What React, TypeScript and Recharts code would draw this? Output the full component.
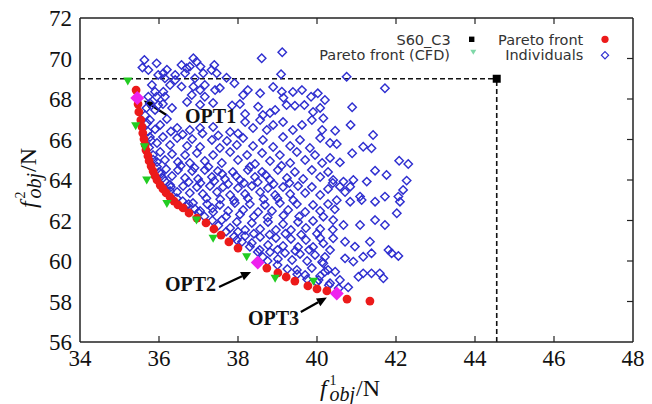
import React from 'react';
import { ScatterChart, Scatter, XAxis, YAxis, ReferenceLine, ReferenceDot } from 'recharts';

const xTicks = [34, 36, 38, 40, 42, 44, 46, 48];
const yTicks = [56, 58, 60, 62, 64, 66, 68, 70, 72];

const individuals: [number, number][] = [
  [35.63,69.93],[35.94,69.76],[35.58,69.55],[35.73,69.43],[35.98,69.19],[36.11,69.27],[36.41,69.19],[36.57,69.68],[36.70,69.52],[36.87,70.01],[36.95,69.84],[36.78,69.60],[36.66,69.27],[36.91,69.02],[37.12,69.27],[37.33,69.43],[37.40,69.68],[37.46,69.27],[37.71,69.05],[37.91,68.78],[38.60,70.01],[39.12,70.31],[39.09,69.22],[40.75,69.10],[36.15,69.02],[36.41,68.94],[36.28,68.69],[36.2,69.45],[37.05,69.6],
  [35.82,68.69],[35.90,68.36],[36.11,68.36],[35.73,68.11],[35.94,68.11],[36.15,68.11],[36.57,68.61],[36.87,68.61],[37.04,68.44],[37.16,68.69],[37.42,68.44],[36.83,68.20],[37.16,68.11],[38.13,68.20],[38.56,68.28],[39.11,68.36],[39.15,68.06],[39.85,68.11],[40.02,68.28],[41.72,68.53],[37.54,68.54],[38.25,68.44],[38.89,68.59],[39.39,68.35],[39.62,68.44],[40.20,67.95],
  [35.77,67.79],[35.98,67.70],[35.90,67.46],[36.10,67.75],[36.33,67.56],[36.71,67.85],[37.04,67.72],[37.37,67.80],[37.85,67.68],[38.05,67.75],[38.51,67.62],[38.94,67.46],[39.23,67.70],[39.44,67.67],[39.68,67.70],[39.90,67.36],[40.08,67.56],[40.89,67.59],[38.63,67.21],[38.81,67.31],[38.18,67.26],
  [35.77,66.96],[36.03,66.72],[36.20,67.01],[36.46,66.57],[36.78,66.47],[38.18,66.86],[38.38,66.57],[38.56,66.96],[38.73,66.47],[38.89,66.72],[39.14,66.86],[39.39,66.47],[39.62,66.72],[39.87,66.96],[40.16,67.05],[40.13,66.47],[40.85,66.72],[40.46,66.43],[37.37,66.62],[37.80,66.37],[37.04,66.57],
  [35.77,66.12],[35.95,65.83],[36.10,66.12],[36.28,65.73],[36.46,66.07],[36.71,65.68],[36.84,66.02],[37.04,65.63],[37.34,65.98],[37.54,65.58],[37.72,65.93],[37.97,65.73],[38.13,66.07],[38.38,65.68],[38.63,65.98],[38.89,65.63],[39.14,66.12],[39.32,65.68],[39.57,65.98],[39.82,65.58],[40.08,66.07],[40.50,65.78],[41.42,66.22],[41.17,65.64],[41.38,65.57],[40.33,65.83],
  [35.85,65.23],[35.95,64.89],[36.03,65.38],[36.15,64.99],[36.33,65.28],[36.48,64.89],[36.66,65.23],[36.78,64.84],[36.96,65.33],[37.16,64.94],[37.37,65.23],[37.59,64.84],[37.80,65.38],[38.00,64.99],[38.23,65.23],[38.43,64.79],[38.61,65.33],[38.81,64.94],[39.06,65.23],[39.32,64.84],[39.49,65.38],[39.70,64.99],[39.95,65.23],[40.13,64.84],[40.89,65.32],[40.58,64.87],[42.08,64.95],[42.31,64.79],[40.33,65.09],
  [36.00,64.40],[36.10,64.10],[36.18,64.54],[36.33,64.20],[36.48,64.49],[36.66,64.10],[36.84,64.44],[36.99,64.05],[37.16,64.49],[37.34,64.15],[37.49,64.44],[37.67,64.05],[37.87,64.40],[38.05,64.00],[38.25,64.49],[38.43,64.15],[38.61,64.40],[38.81,64.00],[39.01,64.49],[39.24,64.10],[39.44,64.40],[39.65,64.05],[39.87,64.49],[40.08,64.15],[40.28,64.40],[41.47,64.46],[41.76,64.25],[42.27,63.97],[40.41,64.00],[40.67,63.92],[40.92,64.00],[41.26,63.92],
  [36.28,63.46],[36.28,63.75],[36.46,63.41],[36.61,63.70],[36.78,63.36],[36.96,63.65],[37.11,63.31],[37.29,63.70],[37.47,63.41],[37.62,63.65],[37.80,63.26],[38.00,63.60],[38.18,63.31],[38.35,63.70],[38.56,63.41],[38.76,63.60],[38.94,63.26],[39.14,63.65],[39.32,63.31],[39.52,63.70],[39.70,63.36],[39.87,63.65],[40.08,63.26],[40.28,63.56],[40.58,63.67],[40.84,63.67],[41.09,63.18],[41.72,63.18],[42.06,63.18],[42.18,63.51],[40.71,63.41],
  [36.68,62.72],[36.91,62.57],[36.86,62.86],[37.04,62.47],[37.22,62.81],[37.37,62.42],[37.54,62.77],[37.75,62.47],[37.92,62.86],[38.13,62.52],[38.30,62.81],[38.51,62.42],[38.68,62.77],[38.86,62.47],[39.06,62.86],[39.27,62.52],[39.49,62.81],[39.70,62.42],[39.90,62.77],[40.08,62.47],[40.28,62.81],[40.84,62.93],[41.13,63.01],[41.47,62.93],[42.10,62.93],[42.02,62.36],[40.16,62.19],
  [37.59,62.02],[37.80,61.63],[37.97,61.93],[38.18,61.53],[38.35,61.88],[38.56,61.58],[38.76,61.93],[38.96,61.53],[39.14,61.83],[39.34,61.53],[39.52,61.93],[39.72,61.63],[39.90,61.98],[40.08,61.58],[40.41,62.02],[40.67,61.78],[41.09,61.78],[41.47,62.02],[41.72,61.78],
  [37.97,61.04],[38.18,61.23],[38.35,60.89],[38.56,61.19],[38.76,60.79],[38.96,61.14],[39.14,60.74],[39.34,61.09],[39.52,60.69],[39.72,61.04],[39.90,60.69],[40.08,61.14],[40.41,61.12],[40.71,60.95],[40.96,60.71],[41.34,60.95],[40.16,60.87],
  [38.63,60.20],[38.81,60.44],[39.01,60.10],[39.19,60.40],[39.37,60.05],[39.57,60.35],[39.75,60.00],[39.95,60.30],[40.13,59.95],[40.33,60.54],[40.71,60.13],[40.92,59.97],[41.17,60.21],[41.38,60.38],[41.81,60.54],[41.89,60.38],[42.06,60.25],
  [39.49,59.56],[39.70,59.31],[39.87,59.65],[40.08,59.26],[40.28,59.56],[40.16,59.89],[40.20,59.47],[40.46,59.47],[40.58,59.06],[40.79,58.70],[41.05,59.22],[41.17,59.39],[41.38,59.39],[41.59,59.39],[41.68,59.15],[40.04,59.06],[40.33,58.90],
  [36.55,64.7],[36.9,64.6],[37.25,64.65],[37.6,64.3],[37.95,64.2],[38.3,64.65],[38.7,64.25],[39.1,64.7],[36.75,63.9],[37.05,63.85],[37.4,63.95],[37.75,63.8],[38.15,63.85],[38.5,63.9],[38.9,63.8],[39.3,63.85],[37.2,63.1],[37.55,63.05],[37.9,63.0],[38.25,63.1],[38.65,63.05],[39.0,63.1],[39.4,63.0],[37.35,62.6],[37.7,62.2],[38.05,62.3],[38.4,62.2],[38.75,62.15],[39.15,62.25],[39.55,62.2],[38.0,61.45],[38.4,61.35],[38.8,61.3],[39.2,61.35],[39.6,61.3],[38.55,60.55],[39.0,60.55],[39.45,60.5],[39.8,60.55],[40.2,60.2],[40.0,61.35],[40.4,61.55],[40.45,62.55],[40.5,63.0],[40.4,63.85],[37.1,66.3],[37.5,66.2],[38.0,66.3],[36.6,66.25],[36.3,66.4],[35.9,66.5],
  [36.45,63.1],[36.6,62.95],[36.75,62.8],[37.0,62.4],[37.15,62.2],[37.35,62.0],[37.5,61.75],[37.7,61.45],[37.9,61.2],[38.1,60.95],[38.3,60.7],[38.5,60.45],[38.75,60.0],[39.0,59.8],[39.25,59.6],[39.5,59.35],[39.75,59.1],[40.0,58.95],[40.3,58.8],[40.55,58.65],
  [35.75,65.6],[35.8,65.95],[35.72,66.4],[35.7,66.8],[35.65,67.2],[35.68,67.55],[35.85,65.0],[35.95,64.65],[36.05,64.3],[36.15,63.95],[36.3,63.65]
];

const paretoFront: [number, number][] = [
  [35.42,68.44],[35.47,67.75],[35.49,67.36],[35.54,66.96],[35.57,66.62],[35.59,66.32],[35.62,66.02],[35.65,65.73],[35.67,65.48],[35.72,65.19],[35.75,64.94],[35.80,64.69],[35.85,64.44],[35.90,64.20],[35.95,64.00],[36.03,63.75],[36.10,63.56],[36.18,63.36],[36.28,63.16],[36.38,62.96],[36.48,62.77],[36.61,62.62],[36.76,62.37],[36.96,62.12],[37.19,61.88],[37.39,61.58],[37.57,61.28],[37.77,60.94],[38.00,60.64],[38.73,59.65],[39.01,59.41],[39.22,59.21],[39.44,59.01],[39.77,58.77],[40.00,58.62],[40.25,58.52],[40.76,58.12],[41.34,58.02]
];

const paretoCFD: [number, number][] = [
  [35.21,68.89],[35.41,66.67],[35.63,65.64],[35.69,64.00],[36.20,62.84],[36.95,62.02],[37.37,61.12],[38.22,60.21],[38.94,59.14],[39.91,58.99]
];

const optPoints: [number, number][] = [[35.45,68.05],[38.5,59.92],[40.5,58.4]];
const baselineS60: [number, number][] = [[44.55,69]];
const optLabels = ['OPT1', 'OPT2', 'OPT3'];
const optLabelAt: [number, number][] = [[36.66,66.81],[36.15,58.52],[38.25,56.84]];
const optArrowFrom: [number, number][] = [[36.19,67.21],[37.52,58.72],[39.59,57.48]];
const optArrowTo: [number, number][] = [[35.61,67.93],[38.33,59.46],[40.25,58.2]];

const toObj = (arr: [number, number][]) => arr.map(([x, y]) => ({ x, y }));

const BLUE = '#2f2fd0';
const RED = '#ec1a1a';
const GREEN = '#22cc22';
const MAGENTA = '#ee22ee';

const BlueDiamond = (p: any) => {
  const { cx, cy } = p;
  if (cx == null || cy == null) return <g />;
  const s = 4.2;
  return <polygon points={`${cx},${cy - s} ${cx + s},${cy} ${cx},${cy + s} ${cx - s},${cy}`} fill="none" stroke={BLUE} strokeWidth={1.45} />;
};
const RedDot = (p: any) => <circle cx={p.cx} cy={p.cy} r={4.4} fill={RED} />;
const GreenTri = (p: any) => {
  const { cx, cy } = p;
  return <polygon points={`${cx - 4.6},${cy - 3.6} ${cx + 4.6},${cy - 3.6} ${cx},${cy + 4.4}`} fill={GREEN} />;
};
const MagDiamond = (p: any) => {
  const { cx, cy } = p;
  const s = 7;
  return <polygon points={`${cx},${cy - s} ${cx + s},${cy} ${cx},${cy + s} ${cx - s},${cy}`} fill={MAGENTA} />;
};
const BlackSquare = (p: any) => <rect x={p.cx - 4} y={p.cy - 4} width={8} height={8} fill="#000" />;

const arrowShape = (p: any) => {
  const { x1, y1, x2, y2 } = p;
  const dx = x2 - x1, dy = y2 - y1;
  const len = Math.hypot(dx, dy) || 1;
  const ux = dx / len, uy = dy / len;
  const hl = 10, hw = 4.5;
  const bx = x2 - ux * hl, by = y2 - uy * hl;
  return (
    <g>
      <line x1={x1} y1={y1} x2={bx} y2={by} stroke="#000" strokeWidth={2.2} />
      <polygon points={`${x2},${y2} ${bx - uy * hw},${by + ux * hw} ${bx + uy * hw},${by - ux * hw}`} fill="#000" />
    </g>
  );
};

// inward tick marks at both ends of a vertical reference line (top & bottom axes)
const xTickShape = (p: any) => {
  const { x1, y1, y2 } = p;
  if (x1 == null) return <g />;
  const top = Math.min(y1, y2), bot = Math.max(y1, y2);
  return (
    <g stroke="#222" strokeWidth={1.2}>
      <line x1={x1} y1={top} x2={x1} y2={top + 6} />
      <line x1={x1} y1={bot} x2={x1} y2={bot - 6} />
    </g>
  );
};
// inward tick marks on the right axis
const yTickShape = (p: any) => {
  const { x1, x2, y1 } = p;
  if (y1 == null) return <g />;
  const right = Math.max(x1, x2);
  return <line x1={right} y1={y1} x2={right - 6} y2={y1} stroke="#222" strokeWidth={1.2} />;
};

const makeText = (label: string) => (p: any) => (
  <text x={p.cx} y={p.cy} fontFamily="Liberation Serif" fontWeight="bold" fontSize={20} fill="#111">{label}</text>
);

const emptyTick = () => <g />;

const tickStyle = { fontSize: 23, fontFamily: 'Liberation Serif', fill: '#111' };
const axisLineStyle = { stroke: '#222', strokeWidth: 1.5 };

export default function App() {
  return (
    <div style={{ position: 'relative', width: 644, height: 396 }}>
      <ScatterChart width={644} height={396} margin={{ top: 0, right: 0, bottom: 0, left: 0 }}>
        <XAxis dataKey="x" type="number" domain={[34, 48]} ticks={xTicks} interval={0} height={62}
          tick={tickStyle} tickSize={-6} tickMargin={14} axisLine={axisLineStyle} tickLine={false} allowDataOverflow />
        <XAxis xAxisId="top" orientation="top" type="number" domain={[34, 48]} ticks={xTicks} interval={0} height={10}
          tick={emptyTick} axisLine={axisLineStyle} tickLine={false} allowDataOverflow />
        <YAxis dataKey="y" type="number" domain={[56, 72]} ticks={yTicks} interval={0} width={72}
          tick={tickStyle} tickSize={-6} tickMargin={14} axisLine={axisLineStyle} tickLine={false} allowDataOverflow />
        <YAxis yAxisId="right" orientation="right" type="number" domain={[56, 72]} ticks={yTicks} interval={0} width={19}
          tick={emptyTick} axisLine={axisLineStyle} tickLine={false} allowDataOverflow />
        {xTicks.slice(1, -1).map((t) => (
          <ReferenceLine key={'xt' + t} x={t} shape={xTickShape} />
        ))}
        {yTicks.slice(1, -1).map((t) => (
          <ReferenceLine key={'yt' + t} y={t} shape={yTickShape} />
        ))}
        <ReferenceLine segment={[{ x: 34, y: baselineS60[0][1] }, { x: baselineS60[0][0], y: baselineS60[0][1] }]} stroke="#111" strokeWidth={1.6} strokeDasharray="5 3" />
        <ReferenceLine segment={[{ x: baselineS60[0][0], y: 56 }, { x: baselineS60[0][0], y: baselineS60[0][1] }]} stroke="#111" strokeWidth={1.6} strokeDasharray="5 3" />
        <Scatter data={toObj(individuals)} shape={BlueDiamond} isAnimationActive={false} />
        <Scatter data={toObj(paretoFront)} shape={RedDot} isAnimationActive={false} />
        <Scatter data={toObj(paretoCFD)} shape={GreenTri} isAnimationActive={false} />
        <Scatter data={toObj(optPoints)} shape={MagDiamond} isAnimationActive={false} />
        <Scatter data={toObj(baselineS60)} shape={BlackSquare} isAnimationActive={false} />
        {optArrowFrom.map((f, i) => (
          <ReferenceLine key={'a' + i} segment={[{ x: f[0], y: f[1] }, { x: optArrowTo[i][0], y: optArrowTo[i][1] }]} shape={arrowShape} />
        ))}
        {optLabelAt.map((pt, i) => (
          <ReferenceDot key={'t' + i} x={pt[0]} y={pt[1]} r={0} shape={makeText(optLabels[i])} />
        ))}
      </ScatterChart>
      <svg width={644} height={396} style={{ position: 'absolute', left: 0, top: 0, pointerEvents: 'none' }}>
        <g fontFamily="DejaVu Sans" fontSize={14.5} fill="#333">
          <text x={442.7} y={36.5} textAnchor="end">S60_C3</text>
          <rect x={461} y={28.6} width={5.4} height={5.4} fill="#000" />
          <text x={575.3} y={36.5} textAnchor="end">Pareto front</text>
          <circle cx={597} cy={31.3} r={3.6} fill={RED} />
          <text x={442} y={51.5} textAnchor="end">Pareto front (CFD)</text>
          <polygon points="462.3,41.7 468.3,41.7 465.3,46.7" fill="#7fd8a8" />
          <text x={575.3} y={51.5} textAnchor="end">Individuals</text>
          <polygon points="597,43.6 600.6,47.2 597,50.8 593.4,47.2" fill="none" stroke={BLUE} strokeWidth={1.2} />
        </g>
        <g fontFamily="Liberation Serif" fill="#111">
          <text x={342} y={388} fontSize={24} textAnchor="middle">
            <tspan fontStyle="italic">f</tspan>
            <tspan fontSize={14} dx={3} dy={-11}>1</tspan>
            <tspan fontSize={20} fontStyle="italic" dx={-7} dy={16}>obj</tspan>
            <tspan dx={1} dy={-5}>/N</tspan>
          </text>
          <g transform="translate(28,170) rotate(-90)">
            <text x={0} y={0} fontSize={24} textAnchor="middle">
              <tspan fontStyle="italic">f</tspan>
              <tspan fontSize={14} dx={3} dy={-11}>2</tspan>
              <tspan fontSize={20} fontStyle="italic" dx={-7} dy={16}>obj</tspan>
              <tspan dx={1} dy={-5}>/N</tspan>
            </text>
          </g>
        </g>
      </svg>
    </div>
  );
}
